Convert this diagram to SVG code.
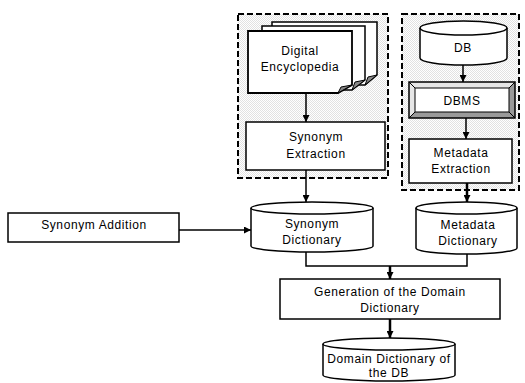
<svg xmlns="http://www.w3.org/2000/svg" width="525" height="383" viewBox="0 0 525 383">
<defs>
<pattern id="dots" width="2" height="2" patternUnits="userSpaceOnUse">
<rect width="2" height="2" fill="#ffffff"/>
<rect width="1" height="1" fill="#e2e2e2"/>
<rect x="1" y="1" width="1" height="1" fill="#e2e2e2"/>
</pattern>
<marker id="ah" viewBox="0 0 10 10" refX="10" refY="5" markerWidth="7" markerHeight="7" markerUnits="userSpaceOnUse" orient="auto">
<path d="M0,0 L10,5 L0,10 Z" fill="#000"/>
</marker>
</defs>
<style>
.grp{fill:url(#dots);stroke:#000;stroke-width:2;stroke-dasharray:6,3}
.box{fill:#fff;stroke:#000;stroke-width:1.5}
.ln{fill:none;stroke:#000;stroke-width:1.5}
.thick{fill:none;stroke:#000;stroke-width:2.5}
.curl{fill:#888;stroke:#000;stroke-width:1}
text{font-family:"Liberation Sans",Arial,sans-serif;font-size:12px;letter-spacing:0.6px;fill:#000;text-anchor:middle}
</style>
<g id="group-encyclopedia"><rect class="grp" x="238" y="14" width="150" height="164"/></g>
<g id="group-db"><rect class="grp" x="402" y="14" width="117" height="176"/></g>

<g id="digital-encyclopedia">
<path class="box" d="M272,22 H377 V75 L365,85 H272 Z"/>
<path class="curl" d="M365,85 L377,75 L368,77 Z"/>
<path class="box" d="M262,26 H365 V80 L352,90 H262 Z"/>
<path class="curl" d="M352,90 L365,80 L355,82 Z"/>
<path class="box" d="M248,31 H352 V85 L338,93 H248 Z" style="stroke-width:1.8"/>
<path class="curl" d="M338,93 L352,85 L341,87 Z"/>
<text x="300" y="55">Digital</text>
<text x="300" y="71">Encyclopedia</text>
</g>
<g id="synonym-extraction">
<rect class="box" x="246" y="122" width="139" height="48"/>
<text x="316" y="141">Synonym</text>
<text x="316" y="158">Extraction</text>
</g>
<g id="db">
<path class="box" d="M420,28 A43.5,7 0 0 1 507,28 V58 A43.5,7 0 0 1 420,58 Z"/>
<path class="ln" d="M420,28 A43.5,7 0 0 0 507,28"/>
<text x="463" y="52">DB</text>
</g>
<g id="dbms">
<rect x="409" y="82" width="106" height="36" fill="#fff"/>
<path d="M409,82 H515 L509,88 H415 V112 L409,118 Z" fill="#e6e6e6"/>
<path d="M515,82 V118 H409 L415,112 H509 V88 Z" fill="#9a9a9a"/>
<path d="M409,82 L415,88 M515,82 L509,88 M409,118 L415,112 M515,118 L509,112" stroke="#000" stroke-width="1"/>
<rect x="415" y="88" width="94" height="24" fill="#fff" stroke="#000" stroke-width="1"/>
<rect x="409" y="82" width="106" height="36" fill="none" stroke="#000" stroke-width="1.5"/>
<text x="462" y="105">DBMS</text>
</g>
<g id="metadata-extraction">
<rect class="box" x="409" y="139" width="103" height="44"/>
<text x="461" y="157">Metadata</text>
<text x="461" y="173">Extraction</text>
</g>
<g id="synonym-addition">
<rect class="box" x="8" y="213" width="171" height="29"/>
<text x="94" y="229">Synonym Addition</text>
</g>
<g id="synonym-dictionary">
<path class="box" d="M251,208 A61,6 0 0 1 373,208 V246 A61,6 0 0 1 251,246 Z"/>
<path class="ln" d="M251,208 A61,6 0 0 0 373,208"/>
<text x="312" y="228">Synonym</text>
<text x="312" y="244">Dictionary</text>
</g>
<g id="metadata-dictionary">
<path class="box" d="M416,208 A50.5,6 0 0 1 517,208 V248 A50.5,6 0 0 1 416,248 Z"/>
<path class="ln" d="M416,208 A50.5,6 0 0 0 517,208"/>
<text x="468" y="229">Metadata</text>
<text x="468" y="245">Dictionary</text>
</g>
<g id="generation">
<rect class="box" x="280" y="279" width="220" height="40"/>
<text x="390" y="296">Generation of the Domain</text>
<text x="390" y="312">Dictionary</text>
</g>
<g id="domain-dictionary">
<path class="box" d="M323,344 A66,6 0 0 1 455,344 V375 A66,6 0 0 1 323,375 Z"/>
<path class="ln" d="M323,344 A66,6 0 0 0 455,344"/>
<text x="389" y="363">Domain Dictionary of</text>
<text x="389" y="377">the DB</text>
</g>
<g id="connectors">
<line class="ln" x1="306" y1="93" x2="306" y2="122" marker-end="url(#ah)"/>
<line class="ln" x1="306" y1="170" x2="306" y2="202" marker-end="url(#ah)"/>
<line class="ln" x1="463" y1="65" x2="463" y2="82" marker-end="url(#ah)"/>
<line class="ln" x1="466" y1="118" x2="466" y2="139" marker-end="url(#ah)"/>
<line class="thick" x1="467" y1="183" x2="467" y2="202" marker-end="url(#ah)"/>
<line class="ln" x1="179" y1="230" x2="251" y2="230" marker-end="url(#ah)"/>
<path class="ln" d="M306,252 V266 H467 V254"/>
<line class="thick" x1="390" y1="266" x2="390" y2="279" marker-end="url(#ah)"/>
<line class="thick" x1="390" y1="319" x2="390" y2="338" marker-end="url(#ah)"/>
</g>
</svg>
